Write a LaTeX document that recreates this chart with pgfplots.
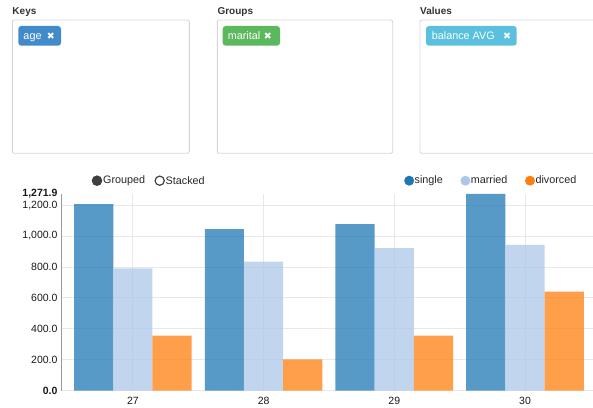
\documentclass[border=0pt]{standalone}
\usepackage{fontspec}
\setmainfont{Liberation Sans}
\newfontfamily\dejavu{DejaVu Sans}
\usepackage{pgfplots}
\pgfplotsset{compat=1.18}

\definecolor{cSingle}{HTML}{1F77B4}
\definecolor{cMarried}{HTML}{AEC7E8}
\definecolor{cDivorced}{HTML}{FF7F0E}
\definecolor{tagBlue}{HTML}{428BCA}
\definecolor{tagGreen}{HTML}{5CB85C}
\definecolor{tagCyan}{HTML}{5BC0DE}
\definecolor{boxLine}{HTML}{D6D6D6}
\definecolor{gridc}{HTML}{E8E8E8}
\definecolor{txt}{HTML}{333333}
\newcommand{\fsz}[1]{\fontsize{#1}{#1}\selectfont}

\pgfplotsset{
  dotlegend/.style={legend image code/.code={\fill[##1, fill opacity=1, draw=none] (5bp,0bp) circle (5bp);}},
}

\begin{document}
\begin{tikzpicture}
\useasboundingbox (0,0) rectangle (593bp,408bp);
\clip (0,0) rectangle (593bp,408bp);

% panels above the chart, y counted downward from the top edge
\begin{scope}[x=1bp,y=-1bp,yshift=408bp]
  \foreach \xa/\xb/\lab in {12.3/189.3/Keys,217.3/392.7/Groups,420/605/Values}{
    \draw[boxLine, line width=0.9bp, rounded corners=2bp] (\xa,20) rectangle (\xb,153.3);
    \node[anchor=base west, inner sep=0pt, font=\fsz{10bp}\bfseries, text=txt] at (\xa,15) {\lab};
  }
  % tags
  \fill[tagBlue, rounded corners=3bp] (18.3,26) rectangle (61,45.7);
  \node[anchor=base west, inner sep=0pt, font=\fsz{10.8bp}, text=white] at (23.3,39.6) {age};
  \node[inner sep=0pt, font=\dejavu\fsz{9.5bp}, text=white] at (50.8,35.9) {✖};

  \fill[tagGreen, rounded corners=3bp] (222.7,26) rectangle (280,45.7);
  \node[anchor=base west, inner sep=0pt, font=\fsz{10.8bp}, text=white] at (227.7,39.6) {marital};
  \node[inner sep=0pt, font=\dejavu\fsz{9.5bp}, text=white] at (267.8,35.9) {✖};

  \fill[tagCyan, rounded corners=3bp] (426,26) rectangle (516.7,45.7);
  \node[anchor=base west, inner sep=0pt, font=\fsz{10.8bp}, text=white] at (431.7,39.6) {balance AVG};
  \node[inner sep=0pt, font=\dejavu\fsz{9.5bp}, text=white] at (507.2,35.9) {✖};

  % grouped / stacked switch
  \fill[black!75] (97,180.7) circle (5.3);
  \node[anchor=west, inner sep=0pt, font=\fsz{10.8bp}, text=black!85] at (103,180.7) {Grouped};
  \draw[black!75, line width=1.2bp] (159.7,180.7) circle (4.6);
  \node[anchor=west, inner sep=0pt, font=\fsz{10.8bp}, text=black!85] at (165.5,180.7) {Stacked};
\end{scope}

\begin{axis}[
  at={(61bp,17.3bp)}, anchor=south west,
  scale only axis, width=532bp, height=196.8bp,
  xmin=-0.55, xmax=3.52, ymin=0, ymax=1271.9,
  xtick={0,1,2,3}, xticklabels={27,28,29,30},
  ytick={0,200,...,1200},
  yticklabels={{\bfseries 0.0},{200.0},{400.0},{600.0},{800.0},{1{,}000.0},{1{,}200.0}},
  extra y ticks={1271.9},
  extra y tick labels={\bfseries 1{,}271.9},
  extra y tick style={grid=none},
  grid=major, grid style={gridc, line width=0.8bp},
  major tick length=0pt,
  axis x line*=bottom, axis y line*=left,
  x axis line style={draw=none},
  y axis line style={black!40, line width=1bp, -},
  ticklabel style={font=\fsz{10.5bp}, text=black!90},
  xticklabel style={yshift=-3bp},
  legend columns=3,
  legend style={draw=none, fill=none, at={(0.6447,1.0671)}, anchor=west,
    inner xsep=0pt, inner ysep=0pt, font=\fsz{10.8bp}, text=black!85,
    nodes={inner sep=0.5bp},
    /tikz/every even column/.append style={column sep=17bp}},
]
\addplot[ybar, bar width=0.3, bar shift=-0.3, fill=cSingle, fill opacity=0.75, draw=none, dotlegend]
  coordinates {(0,1205) (1,1045) (2,1077) (3,1271.9)};
\addplot[ybar, bar width=0.3, bar shift=0, fill=cMarried, fill opacity=0.75, draw=none, dotlegend]
  coordinates {(0,791) (1,834) (2,922) (3,942)};
\addplot[ybar, bar width=0.3, bar shift=0.3, fill=cDivorced, fill opacity=0.75, draw=none, dotlegend]
  coordinates {(0,356) (1,203) (2,356) (3,640)};
\legend{single,married,divorced}
\end{axis}
\end{tikzpicture}
\end{document}
